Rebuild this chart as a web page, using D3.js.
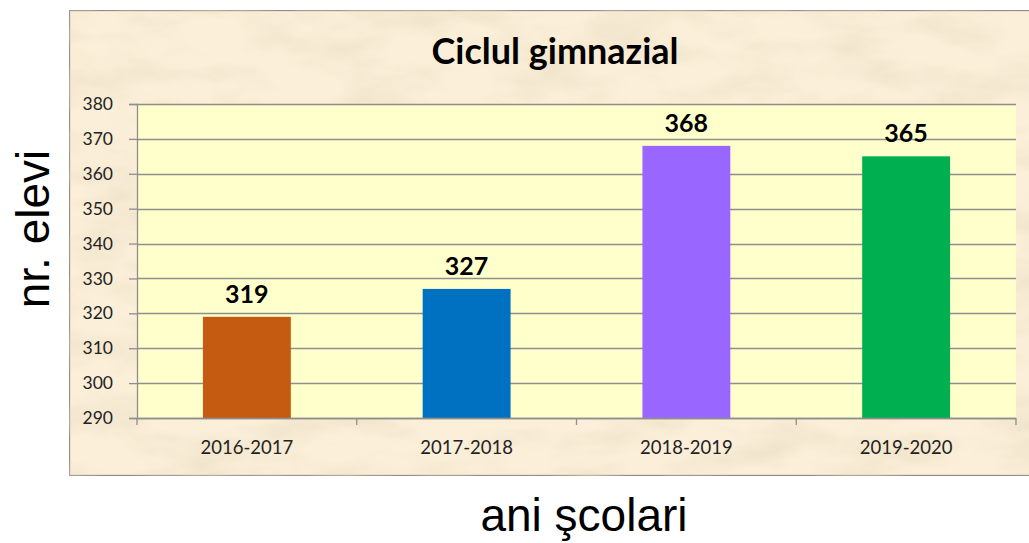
<!DOCTYPE html>
<html>
<head>
<meta charset="utf-8">
<script src="https://cdn.jsdelivr.net/npm/d3@7"></script>
<style>
  body { margin: 0; background: #fff; }
  svg { display: block; }
</style>
</head>
<body>
<script>
const w = 1029;
const h = 543;
const years = ["2016-2017", "2017-2018", "2018-2019", "2019-2020"];
const students = [319, 327, 368, 365];
const barColors = ["#C55A11", "#0070C0", "#9966FF", "#00B050"];
const yTicks = [290, 300, 310, 320, 330, 340, 350, 360, 370, 380];

const plot = { left: 137, right: 1016, top: 104, bottom: 418 };

const svg = d3.select("body").append("svg").attr("width", w).attr("height", h);

// parchment texture
const defs = svg.append("defs");
const filter = defs.append("filter").attr("id", "paper")
  .attr("x", 0).attr("y", 0).attr("width", "100%").attr("height", "100%");
filter.append("feTurbulence")
  .attr("type", "fractalNoise").attr("baseFrequency", "0.012 0.03")
  .attr("numOctaves", 4).attr("seed", 3).attr("result", "noise");
filter.append("feColorMatrix").attr("in", "noise").attr("type", "matrix")
  .attr("values", "0 0 0 0 0.80  0 0 0 0 0.68  0 0 0 0 0.50  0 0 0 1.1 -0.45")
  .attr("result", "tint");
filter.append("feComposite").attr("in", "tint").attr("in2", "SourceGraphic").attr("operator", "in").attr("result", "t2");
filter.append("feMerge").call(m => {
  m.append("feMergeNode").attr("in", "SourceGraphic");
  m.append("feMergeNode").attr("in", "t2");
});

svg.append("rect")
  .attr("x", 69.5).attr("y", 10.5).attr("width", 980).attr("height", 465)
  .attr("fill", "#FBEFD9").attr("stroke", "#8c8c8c").attr("stroke-width", 1.3)
  .attr("filter", "url(#paper)");

const x = d3.scaleBand().domain(years).range([plot.left, plot.right]).paddingInner(0.6).paddingOuter(0.3);
const y = d3.scaleLinear().domain([290, 380]).range([plot.bottom, plot.top]);

svg.append("rect")
  .attr("x", plot.left).attr("y", plot.top)
  .attr("width", plot.right - plot.left).attr("height", plot.bottom - plot.top)
  .attr("fill", "#FFFFCC");

// grid
svg.append("g").selectAll("line").data(yTicks).join("line")
  .attr("x1", plot.left).attr("x2", plot.right)
  .attr("y1", d => Math.round(y(d)) + 0.5).attr("y2", d => Math.round(y(d)) + 0.5)
  .attr("stroke", "#8e8e8e").attr("stroke-width", 1.3);

// y axis
const yAxis = svg.append("g")
  .attr("transform", `translate(${plot.left},0)`)
  .call(d3.axisLeft(y).tickValues(yTicks).tickSize(8).tickPadding(16).tickFormat(d3.format("d")));
yAxis.select(".domain").attr("stroke", "#8e8e8e").attr("stroke-width", 1.3);
yAxis.selectAll(".tick line").attr("stroke", "#8e8e8e").attr("stroke-width", 1.3);
yAxis.selectAll(".tick text").attr("font-family", "Lato, 'Open Sans', sans-serif")
  .attr("font-size", 17.5).attr("fill", "#222");

// bars
svg.append("g").selectAll("rect").data(students).join("rect")
  .attr("x", (d, i) => x(years[i]))
  .attr("y", d => y(d))
  .attr("width", x.bandwidth())
  .attr("height", d => y(290) - y(d))
  .attr("fill", (d, i) => barColors[i]);

// x axis
const step = (plot.right - plot.left) / years.length;
const xAxis = svg.append("g").attr("transform", `translate(0,${plot.bottom})`);
xAxis.append("line").attr("x1", plot.left).attr("x2", plot.right).attr("y1", 0.5).attr("y2", 0.5)
  .attr("stroke", "#8e8e8e").attr("stroke-width", 1.3);
xAxis.selectAll("line.tk").data(d3.range(years.length + 1)).join("line").attr("class", "tk")
  .attr("x1", i => plot.left + i * step).attr("x2", i => plot.left + i * step)
  .attr("y1", 0).attr("y2", 7).attr("stroke", "#8e8e8e").attr("stroke-width", 1.3);
xAxis.selectAll("text").data(years).join("text")
  .attr("x", d => x(d) + x.bandwidth() / 2).attr("y", 36)
  .attr("text-anchor", "middle")
  .attr("font-family", "Lato, 'Open Sans', sans-serif").attr("font-size", 18.5).attr("fill", "#222")
  .text(d => d);

// value labels
svg.append("g").selectAll("text").data(students).join("text")
  .attr("x", (d, i) => x(years[i]) + x.bandwidth() / 2)
  .attr("y", d => y(d) - 14)
  .attr("text-anchor", "middle")
  .attr("font-family", "Lato, 'Open Sans', sans-serif").attr("font-weight", "bold")
  .attr("font-size", 25).attr("fill", "#000")
  .text(d => d);

// title
svg.append("text").attr("x", 555).attr("y", 64).attr("text-anchor", "middle")
  .attr("font-family", "Lato, 'Open Sans', sans-serif").attr("font-weight", "bold")
  .attr("font-size", 36).attr("fill", "#000").text("Ciclul gimnazial");

// axis titles
svg.append("text")
  .attr("transform", "translate(49,229) rotate(-90)")
  .attr("text-anchor", "middle")
  .attr("font-family", "'Liberation Sans', Arial, sans-serif")
  .attr("font-size", 46).attr("fill", "#000").text("nr. elevi");

svg.append("text").attr("x", 584).attr("y", 531).attr("text-anchor", "middle")
  .attr("font-family", "'Liberation Sans', Arial, sans-serif")
  .attr("font-size", 46).attr("fill", "#000").text("ani şcolari");
</script>
</body>
</html>
